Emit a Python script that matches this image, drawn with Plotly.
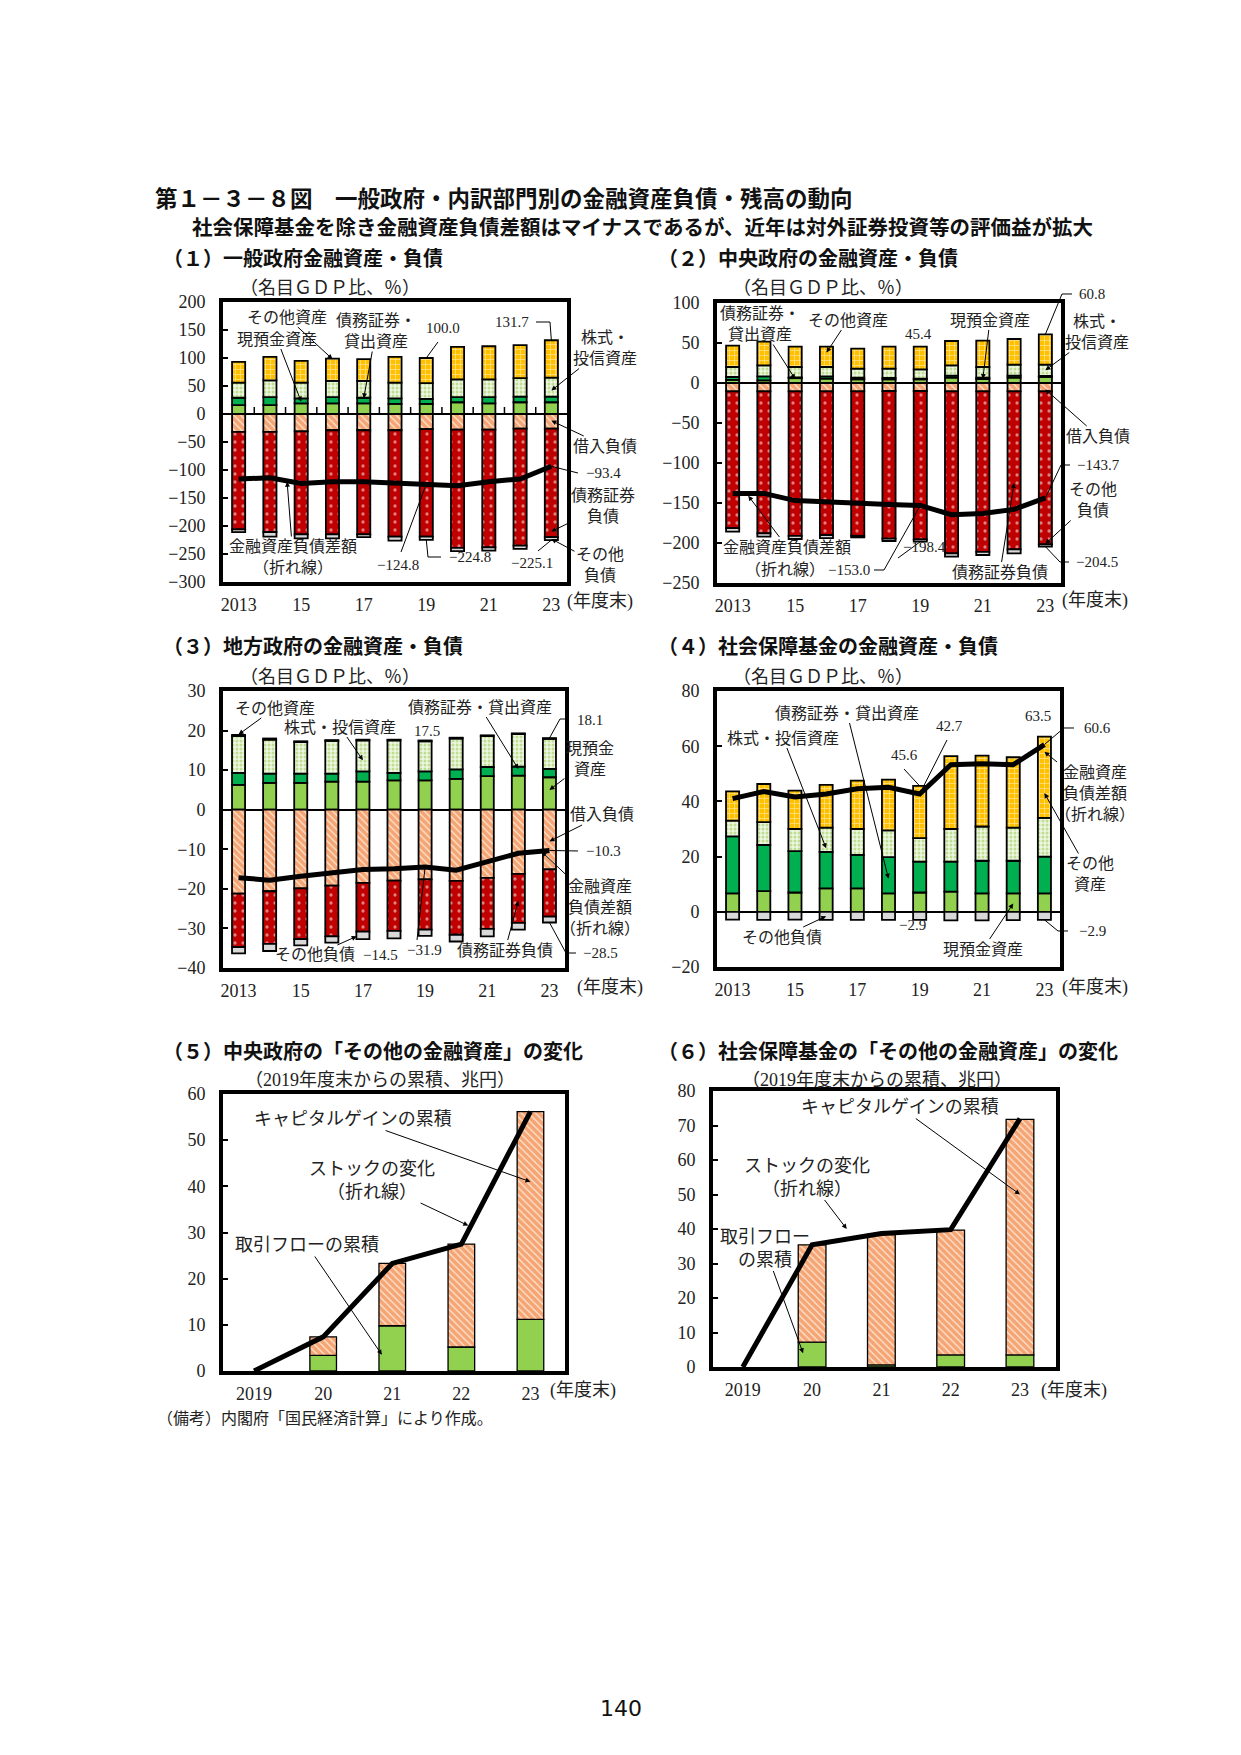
import plotly.graph_objects as go

W, H = 1241, 1755

# ---------------- categories ----------------
years_a = ["2013", "2014", "2015", "2016", "2017", "2018", "2019", "2020", "2021", "2022", "2023"]
ticks_a_vals = ["2013", "2015", "2017", "2019", "2021", "2023"]
ticks_a_text = ["2013", "15", "17", "19", "21", "23"]
years_b = ["2019", "2020", "2021", "2022", "2023"]
years_b_bar = ["2020", "2021", "2022", "2023"]
ticks_b_text = ["2019", "20", "21", "22", "23"]

# ---------------- (1) general government, % of GDP ----------------
gg_cash = [16, 16, 19, 19, 19, 18, 18, 21, 19, 21, 21]
gg_debt_loan = [13, 14, 9, 11, 10, 10, 9, 9, 11, 10, 10]
gg_equity = [27, 30, 28, 29, 30, 28, 28, 32, 32, 33, 34]
gg_other = [37, 42, 39, 40, 39, 46, 45, 58, 59, 59, 66.7]
gg_borrow = [-32, -32, -31, -29, -29, -29, -27, -28, -28, -26, -26]
gg_sec_liab = [-174, -179, -184, -186, -186, -190, -192, -211, -210, -209, -194]
gg_other_liab = [-5, -8, -7, -7, -5, -7, -5.8, -6, -6, -6, -5.1]
gg_net = [-116, -114, -124, -121, -121, -123, -124.8, -128, -121, -116, -93.4]

# ---------------- (2) central government ----------------
cg_cash = [4, 3.4, 6, 5.5, 4.6, 4.6, 4.6, 6.7, 5, 6.7, 7.6]
cg_debt_loan = [3.5, 5, 1, 2.9, 2.1, 1.7, 0.9, 2.5, 1.7, 2.5, 1.2]
cg_equity = [12.5, 13.6, 13, 11.6, 11.3, 11.7, 11.5, 12.8, 13.3, 13.8, 14.2]
cg_other = [26.6, 29.7, 25.4, 25.4, 25, 27.4, 28.4, 30.5, 33, 32, 37.8]
cg_borrow = [-10.5, -10.5, -10.5, -10.5, -10.5, -10, -10, -10.5, -10.5, -10.5, -10.5]
cg_sec_liab = [-171, -177.5, -180.5, -179.5, -180.5, -184.5, -185.4, -202.5, -200.5, -197.5, -191.2]
cg_other_liab = [-4.2, -4, -4, -4, -2, -3, -3, -4, -4, -5, -2.8]
cg_net = [-138, -138, -147, -149, -150, -152, -153.0, -164.7, -163, -158, -143.7]

# ---------------- (3) local government ----------------
lg_cash = [6.3, 6.8, 6.8, 7.1, 7.1, 7.4, 7.4, 7.8, 8.5, 8.6, 8.2]
lg_debt_loan = [3.0, 2.3, 2.3, 2.0, 2.6, 1.9, 2.3, 2.4, 2.3, 2.3, 2.1]
lg_equity = [9.3, 8.6, 8.0, 8.3, 7.8, 8.2, 7.6, 7.8, 7.8, 8.2, 7.6]
lg_other = [0.3, 0.3, 0.2, 0.2, 0.2, 0.2, 0.2, 0.2, 0.2, 0.2, 0.2]
lg_borrow = [-21.2, -20.6, -19.9, -19.2, -18.5, -17.9, -17.6, -18.0, -17.2, -16.2, -15.1]
lg_sec_liab = [-13.5, -13.3, -12.8, -12.8, -12.3, -12.7, -12.7, -13.6, -12.9, -12.4, -11.9]
lg_other_liab = [-1.6, -1.8, -1.6, -1.6, -1.9, -1.9, -1.6, -1.7, -1.9, -1.7, -1.5]
lg_net = [-17.2, -17.8, -16.8, -16.1, -15.1, -14.9, -14.5, -15.3, -13.0, -11.0, -10.3]

# ---------------- (4) social security funds ----------------
ss_cash = [6.7, 7.5, 7.0, 8.5, 8.5, 6.7, 7.0, 7.3, 6.7, 6.7, 6.7]
ss_debt_loan = [20.6, 16.7, 15.0, 13.2, 12.1, 13.1, 11.2, 10.9, 11.8, 11.8, 13.3]
ss_equity = [5.7, 8.3, 8.0, 8.8, 9.4, 9.7, 8.5, 11.8, 12.4, 12.0, 14.0]
ss_other = [10.6, 13.8, 13.9, 15.5, 17.5, 18.4, 18.9, 26.4, 25.7, 25.5, 29.5]
ss_other_liab = [-2.8, -2.9, -2.8, -2.9, -2.9, -2.9, -2.9, -3.1, -3.1, -3.0, -2.9]
ss_net = [41.0, 43.6, 41.6, 42.7, 44.6, 45.1, 42.7, 53.3, 53.6, 53.3, 60.6]

# ---------------- (5)(6) other financial assets, cumulative from FY2019, trillion yen ----------------
cg5_flow = [3.4, 9.8, 5.2, 11.2]
cg5_gain = [4.0, 13.5, 22.3, 45.0]
cg5_stock = [0, 7.4, 23.3, 27.5, 56.2]
ss6_flow = [7.2, 0.6, 3.5, 3.5]
ss6_gain = [28.2, 37.8, 36.2, 68.3]
ss6_stock = [0, 35.4, 38.7, 39.8, 72.0]

# ---------------- styling ----------------
F_SERIF = "Liberation Serif, Noto Sans CJK JP"
F_JP = "Noto Sans CJK JP"
TXT = "#222222"

C_CASH = "#92D050"
C_DEBT = "#00B050"
C_GRAY = "#D9D9D9"
PAT_EQ = dict(shape=".", fgcolor="#8DC63F", bgcolor="#EEF6E2", size=4, solidity=0.45)
PAT_OTH = dict(shape="+", fgcolor="white", bgcolor="#FFC000", size=5, solidity=0.3)
PAT_BOR = dict(shape="\\", fgcolor="#EE6410", bgcolor="#FDE6D6", size=5, solidity=0.75)
PAT_SEC = dict(shape=".", fgcolor="white", bgcolor="#C00000", size=8, solidity=0.13)

panels = {
    1: dict(box=(223, 567, 302, 582), xr=(-0.5, 10.5), yr=(-300, 200), dt=50, cats=years_a),
    2: dict(box=(717, 1061, 303, 583), xr=(-0.5, 10.5), yr=(-250, 100), dt=50, cats=years_a),
    3: dict(box=(223, 565, 691, 968), xr=(-0.5, 10.5), yr=(-40, 30), dt=10, cats=years_a),
    4: dict(box=(717, 1060, 691, 967), xr=(-0.5, 10.5), yr=(-20, 80), dt=20, cats=years_a),
    5: dict(box=(223, 565, 1094, 1371), xr=(-0.45, 4.5), yr=(0, 60), dt=10, cats=years_b),
    6: dict(box=(713, 1056, 1091, 1367), xr=(-0.43, 4.52), yr=(0, 80), dt=10, cats=years_b),
}


def ax_names(i):
    return ("x" if i == 1 else f"x{i}"), ("y" if i == 1 else f"y{i}")


def d2p(i, xd, yd):
    x0, x1, y0, y1 = panels[i]["box"]
    xr, yr = panels[i]["xr"], panels[i]["yr"]
    px = x0 + (xd - xr[0]) / (xr[1] - xr[0]) * (x1 - x0)
    py = y1 - (yd - yr[0]) / (yr[1] - yr[0]) * (y1 - y0)
    return px, py


def pp(px, py):
    return px / W, 1 - py / H


fig = go.Figure()


def add_bar(i, cats, vals, name, color, pattern=None, width=0.42, lw=1.8):
    xa, ya = ax_names(i)
    mk = dict(color=color, line=dict(color="black", width=lw))
    if pattern is not None:
        mk["pattern"] = pattern
    fig.add_trace(go.Bar(x=cats, y=vals, name=name, xaxis=xa, yaxis=ya, marker=mk,
                         width=width, showlegend=False, hoverinfo="skip"))


def add_line(i, cats, vals, name):
    xa, ya = ax_names(i)
    fig.add_trace(go.Scatter(x=cats, y=vals, name=name, xaxis=xa, yaxis=ya, mode="lines",
                             line=dict(color="black", width=5), showlegend=False, hoverinfo="skip"))


def add_balance_panel(i, cash, debt, eq, oth, bor, sec, ol, net):
    add_bar(i, years_a, cash, "現預金資産", C_CASH)
    add_bar(i, years_a, debt, "債務証券・貸出資産", C_DEBT)
    add_bar(i, years_a, eq, "株式・投信資産", PAT_EQ["bgcolor"], PAT_EQ)
    add_bar(i, years_a, oth, "その他資産", PAT_OTH["bgcolor"], PAT_OTH)
    if bor is not None:
        add_bar(i, years_a, bor, "借入負債", PAT_BOR["bgcolor"], PAT_BOR)
    if sec is not None:
        add_bar(i, years_a, sec, "債務証券負債", PAT_SEC["bgcolor"], PAT_SEC)
    add_bar(i, years_a, ol, "その他負債", C_GRAY)
    add_line(i, years_a, net, "金融資産負債差額")


add_balance_panel(1, gg_cash, gg_debt_loan, gg_equity, gg_other, gg_borrow, gg_sec_liab, gg_other_liab, gg_net)
add_balance_panel(2, cg_cash, cg_debt_loan, cg_equity, cg_other, cg_borrow, cg_sec_liab, cg_other_liab, cg_net)
add_balance_panel(3, lg_cash, lg_debt_loan, lg_equity, lg_other, lg_borrow, lg_sec_liab, lg_other_liab, lg_net)
add_balance_panel(4, ss_cash, ss_debt_loan, ss_equity, ss_other, None, None, ss_other_liab, ss_net)

add_bar(5, years_b_bar, cg5_flow, "取引フローの累積", C_CASH, width=0.385, lw=1.3)
add_bar(5, years_b_bar, cg5_gain, "キャピタルゲインの累積", PAT_BOR["bgcolor"], PAT_BOR, width=0.385, lw=1.3)
add_line(5, years_b, cg5_stock, "ストックの変化")
add_bar(6, years_b_bar, ss6_flow, "取引フローの累積", C_CASH, width=0.4, lw=1.3)
add_bar(6, years_b_bar, ss6_gain, "キャピタルゲインの累積", PAT_BOR["bgcolor"], PAT_BOR, width=0.4, lw=1.3)
add_line(6, years_b, ss6_stock, "ストックの変化")

# ---------------- axes ----------------
layout_axes = {}
for i, p in panels.items():
    xa, ya = ax_names(i)
    x0, x1, y0, y1 = p["box"]
    if p["cats"] is years_a:
        tv, tt = ticks_a_vals, ticks_a_text
    else:
        tv, tt = years_b, ticks_b_text
    layout_axes[xa.replace("x", "xaxis")] = dict(
        domain=[x0 / W, x1 / W], range=list(p["xr"]), type="category",
        categoryorder="array", categoryarray=p["cats"], tickvals=tv, ticktext=tt,
        showline=True, mirror=True, linewidth=4, linecolor="black", ticks="",
        showgrid=False, zeroline=False, anchor=ya, ticklabelstandoff=3, automargin=False,
        tickfont=dict(family=F_SERIF, size=18, color=TXT), fixedrange=True)
    layout_axes[ya.replace("y", "yaxis")] = dict(
        domain=[1 - y1 / H, 1 - y0 / H], range=list(p["yr"]), dtick=p["dt"], tick0=0,
        showline=True, mirror=True, linewidth=4, linecolor="black",
        ticks="inside", ticklen=5, tickwidth=1.5, tickcolor="black",
        showgrid=False, zeroline=(i <= 4), zerolinecolor="black", zerolinewidth=1.5,
        anchor=xa, ticklabelstandoff=10, automargin=False,
        tickfont=dict(family=F_SERIF, size=18, color=TXT), fixedrange=True)

annotations = []
shapes = []

# small category boundary ticks on the zero line of panel (1)
for k in range(len(years_a) - 1):
    shapes.append(dict(type="line", xref="x", yref="y", x0=k + 0.5, x1=k + 0.5,
                       ysizemode="pixel", yanchor=0, y0=0, y1=7,
                       line=dict(color="black", width=1.5)))


def label(text, px, py, size=15, anchor="center", family=F_SERIF, bold=False, color=TXT):
    x, y = pp(px, py)
    annotations.append(dict(text=text, x=x, y=y, xref="paper", yref="paper", showarrow=False,
                            xanchor=anchor, yanchor="middle", align="center",
                            font=dict(family=family, size=size, color=color,
                                      weight="bold" if bold else "normal")))


def arrow(i, text, tx, ty, xd, yd, size=16):
    xa, ya = ax_names(i)
    hx, hy = d2p(i, xd, yd)
    annotations.append(dict(text=text, x=xd, y=yd, xref=xa, yref=ya, ax=tx - hx, ay=ty - hy,
                            axref="pixel", ayref="pixel", showarrow=True, arrowhead=2,
                            arrowsize=1, arrowwidth=1, arrowcolor="black", align="center",
                            font=dict(family=F_SERIF, size=size, color=TXT)))


def leader(points):
    path = ""
    for k, (px, py) in enumerate(points):
        x, y = pp(px, py)
        path += ("M" if k == 0 else " L") + f" {x:.5f} {y:.5f}"
    shapes.append(dict(type="path", path=path, xref="paper", yref="paper",
                       line=dict(color="black", width=1)))


def tot(*series):
    return [round(sum(v), 1) for v in zip(*series)]


gg_at = tot(gg_cash, gg_debt_loan, gg_equity, gg_other)
gg_lt = tot(gg_borrow, gg_sec_liab, gg_other_liab)
cg_at = tot(cg_cash, cg_debt_loan, cg_equity, cg_other)
cg_lt = tot(cg_borrow, cg_sec_liab, cg_other_liab)
lg_at = tot(lg_cash, lg_debt_loan, lg_equity, lg_other)
lg_lt = tot(lg_borrow, lg_sec_liab, lg_other_liab)
ss_at = tot(ss_cash, ss_debt_loan, ss_equity, ss_other)
ss_lt = tot(ss_other_liab)

# ---------------- titles ----------------
label("第１－３－８図　一般政府・内訳部門別の金融資産負債・残高の動向", 153, 197, size=22.5, anchor="left", family=F_JP, bold=True, color="#111")
label("社会保障基金を除き金融資産負債差額はマイナスであるが、近年は対外証券投資等の評価益が拡大", 190, 226, size=20.5, anchor="left", family=F_JP, bold=True, color="#111")
label("（１）一般政府金融資産・負債", 161, 257, size=20, anchor="left", family=F_JP, bold=True, color="#111")
label("（２）中央政府の金融資産・負債", 656, 257, size=20, anchor="left", family=F_JP, bold=True, color="#111")
label("（３）地方政府の金融資産・負債", 161, 646, size=20, anchor="left", family=F_JP, bold=True, color="#111")
label("（４）社会保障基金の金融資産・負債", 656, 646, size=20, anchor="left", family=F_JP, bold=True, color="#111")
label("（５）中央政府の「その他の金融資産」の変化", 161, 1050, size=20, anchor="left", family=F_JP, bold=True, color="#111")
label("（６）社会保障基金の「その他の金融資産」の変化", 656, 1050, size=20, anchor="left", family=F_JP, bold=True, color="#111")

for cx, cy in [(330, 288), (823, 288), (330, 677), (823, 677)]:
    label("（名目ＧＤＰ比、％）", cx, cy, size=18)
label("（2019年度末からの累積、兆円）", 380, 1080, size=18)
label("（2019年度末からの累積、兆円）", 877, 1080, size=18)
for cx, cy in [(600, 601), (1095, 600), (610, 987), (1095, 987), (583, 1390), (1074, 1390)]:
    label("(年度末)", cx, cy, size=18)

label("（備考）内閣府「国民経済計算」により作成。", 155, 1418, size=16, anchor="left")
label("140", 621, 1708, size=22, family="DejaVu Sans", color="#111")

# ---------------- panel (1) ----------------
arrow(1, "その他資産", 287, 317, 3, 98)
arrow(1, "現預金資産", 277, 339, 2, 22)
arrow(1, "債務証券・<br>貸出資産", 376, 331, 4, 28)
arrow(1, "株式・<br>投信資産", 605, 348, 10, 42)
arrow(1, "借入負債", 605, 446, 10, -12)
arrow(1, "債務証券<br>負債", 603, 506, 10, -210)
arrow(1, "その他<br>負債", 600, 565, 10, -223)
arrow(1, "金融資産負債差額<br>（折れ線）", 293, 557, 1.55, -121)
label("100.0", 443, 328)
leader([(438, 342), d2p(1, 6, gg_at[6])])
label("131.7", 512, 322)
leader([(536, 322), (550, 322), d2p(1, 10, gg_at[10])])
label("−93.4", 603, 473)
leader([(578, 473), d2p(1, 10, gg_net[10])])
label("−225.1", 532, 563)
leader([(538, 551), d2p(1, 10, gg_lt[10])])
label("−124.8", 398, 565)
leader([(401, 552), d2p(1, 6, gg_net[6])])
label("−224.8", 470, 557)
leader([d2p(1, 6, gg_lt[6]), (428, 557), (441, 557)])

# ---------------- panel (2) ----------------
arrow(2, "債務証券・<br>貸出資産", 760, 324, 2, 5)
arrow(2, "その他資産", 848, 320, 3, 38)
label("45.4", 918, 334)
arrow(2, "現預金資産", 990, 320, 8, 5)
label("60.8", 1092, 294)
leader([(1072, 294), (1062, 294), d2p(2, 10, cg_at[10])])
arrow(2, "株式・<br>投信資産", 1097, 332, 10, 16)
arrow(2, "借入負債", 1098, 436, 10, -8)
label("−143.7", 1098, 465)
leader([(1070, 465), (1061, 465), d2p(2, 10, cg_net[10])])
arrow(2, "その他<br>負債", 1093, 500, 10, -201)
label("−204.5", 1097, 562)
leader([(1069, 562), (1060, 562), d2p(2, 10, cg_lt[10])])
arrow(2, "金融資産負債差額", 787, 547, 0.5, -141)
label("（折れ線）", 785, 570, size=16)
label("−153.0", 849, 570)
leader([(874, 570), (884, 570), d2p(2, 6, cg_net[6])])
label("−198.4", 924, 547)
leader([(898, 558), d2p(2, 6, cg_lt[6])])
arrow(2, "債務証券負債", 1000, 572, 9, -125)

# ---------------- panel (3) ----------------
arrow(3, "その他資産", 275, 708, 0, 19)
arrow(3, "株式・投信資産", 340, 727, 4, 12.5)
label("17.5", 427, 731)
arrow(3, "債務証券・貸出資産", 480, 707, 9, 10.3)
label("18.1", 590, 720)
leader([(568, 719), (560, 719), d2p(3, 10, lg_at[10])])
arrow(3, "現預金<br>資産", 590, 759, 10, 5)
arrow(3, "借入負債", 602, 815, 10, -8)
label("−10.3", 603, 851)
leader([(578, 851), d2p(3, 10, lg_net[10])])
arrow(3, "金融資産<br>負債差額<br>（折れ線）", 600, 907, 9.75, -10.6)
label("−28.5", 600, 953)
leader([(576, 953), (566, 953), d2p(3, 10, lg_lt[10])])
arrow(3, "その他負債", 315, 955, 3.8, -32)
label("−14.5", 380, 955)
label("−31.9", 424, 950)
leader([(417, 940), d2p(3, 6, lg_net[6])])
arrow(3, "債務証券負債", 505, 950, 9, -23)

# ---------------- panel (4) ----------------
arrow(4, "債務証券・貸出資産", 847, 713, 5, 12)
arrow(4, "株式・投信資産", 783, 738, 3, 23)
label("42.7", 950, 726)
leader([(947, 740), d2p(4, 6, ss_net[6])])
label("45.6", 904, 755)
leader([(904, 769), d2p(4, 6, ss_at[6])])
label("63.5", 1038, 716)
label("60.6", 1097, 728)
leader([(1074, 728), (1064, 728), d2p(4, 10, ss_net[10])])
arrow(4, "金融資産<br>負債差額<br>（折れ線）", 1095, 793, 10, 58)
arrow(4, "その他<br>資産", 1090, 874, 10, 43)
arrow(4, "その他負債", 782, 937, 3, -1.6)
label("−2.9", 912, 925)
arrow(4, "現預金資産", 983, 949, 9, 3)
label("−2.9", 1092, 931)
leader([(1068, 931), (1058, 931), d2p(4, 10, ss_lt[10])])

# ---------------- panel (5) ----------------
arrow(5, "キャピタルゲインの累積", 353, 1119, 4, 41, size=18)
arrow(5, "ストックの変化<br>（折れ線）", 372, 1180, 3.1, 31.5, size=18)
arrow(5, "取引フローの累積", 307, 1245, 1.85, 3.5, size=18)

# ---------------- panel (6) ----------------
arrow(6, "キャピタルゲインの累積", 900, 1107, 4, 50, size=18)
arrow(6, "ストックの変化<br>（折れ線）", 807, 1177, 1.5, 40, size=18)
arrow(6, "取引フロー<br>の累積", 765, 1248, 0.87, 4, size=18)

fig.update_layout(
    width=W, height=H, margin=dict(l=0, r=0, t=0, b=0, pad=0), autosize=False,
    paper_bgcolor="white", plot_bgcolor="white", barmode="relative",
    showlegend=False, annotations=annotations, shapes=shapes,
    font=dict(family=F_SERIF, color=TXT), **layout_axes)

fig.write_html("out.html", config={"displayModeBar": False, "responsive": False},
               post_script="document.body.style.margin='0';")
